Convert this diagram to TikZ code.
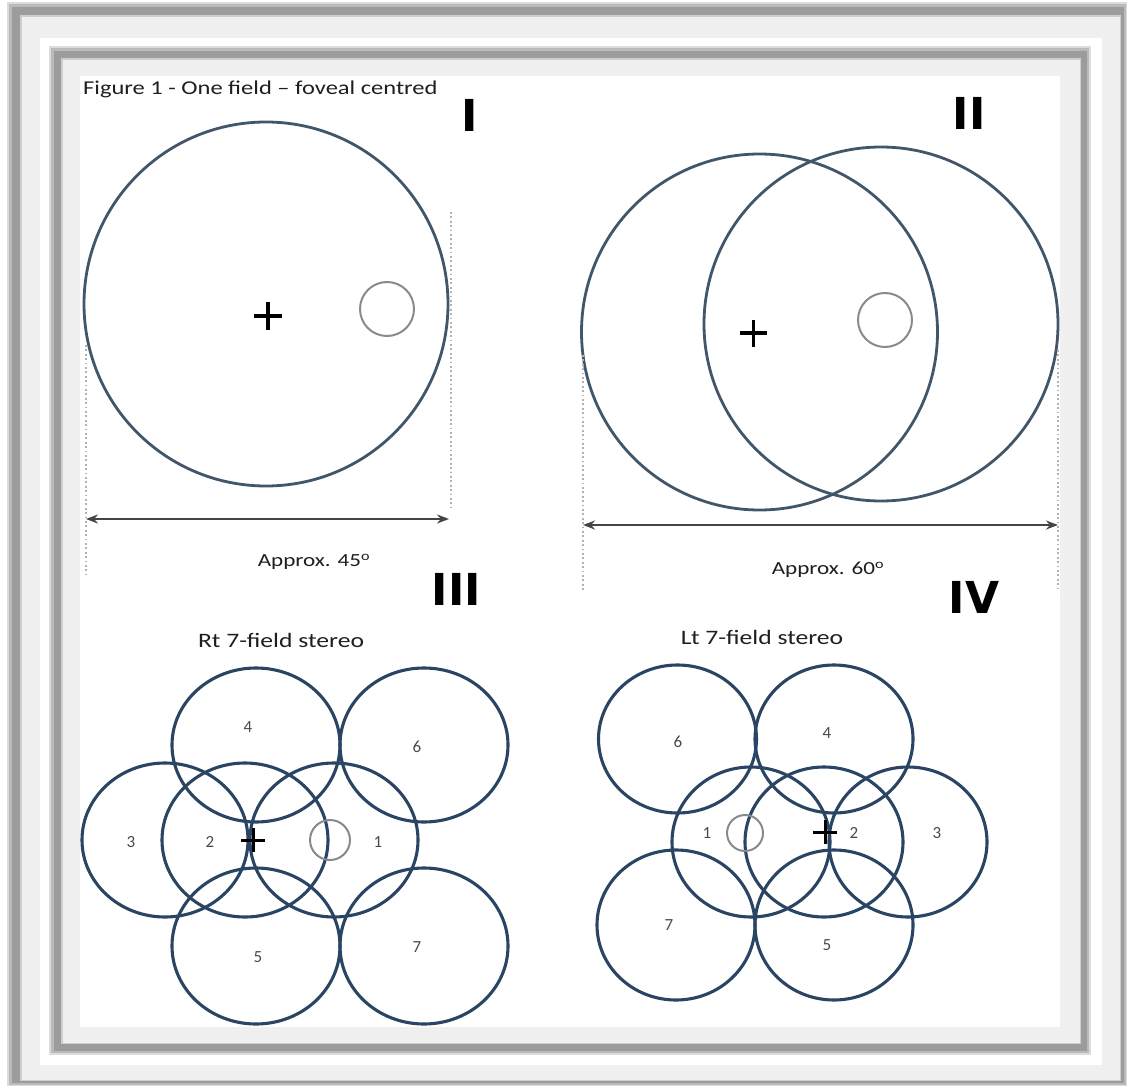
\documentclass[tikz,border=0pt]{standalone}
\usepackage{fontspec}
\setmainfont{Carlito}[FakeStretch=1.25]
\newfontfamily\numfont{Carlito}
\newfontfamily\romanfont{DejaVu Sans}
\usetikzlibrary{arrows.meta}
\definecolor{bigc}{HTML}{42566A}
\definecolor{fieldc}{HTML}{2A4563}
\definecolor{discgray}{HTML}{8A8A8A}
\definecolor{framegray}{HTML}{9C9C9C}
\definecolor{framelight}{HTML}{F0F0F0}
\definecolor{dimgray}{HTML}{444444}
\definecolor{numgray}{HTML}{4A4A4A}
\tikzset{
  bigcircle/.style={draw=bigc, line width=2.8pt},
  fieldcircle/.style={draw=fieldc, line width=3.1pt},
  disc/.style={draw=discgray, line width=2pt},
  plusmark/.style={draw=black, line width=3.8pt},
  smallplus/.style={draw=black, line width=3pt},
  dimarrow/.style={draw=dimgray, line width=2pt, {Stealth[length=12pt,width=9pt]}-{Stealth[length=12pt,width=9pt]}},
  dotline/.style={draw=gray!60, line width=1.8pt, dash pattern=on 1.8pt off 2.6pt},
  roman/.style={inner sep=0pt, font=\romanfont\bfseries\fontsize{44}{44}\selectfont},
  title/.style={inner sep=0pt, font=\fontsize{19.6}{22}\selectfont, text=black!88},
  caption/.style={inner sep=0pt, font=\fontsize{20.5}{22}\selectfont, text=black!88},
  approx/.style={inner sep=0pt, font=\fontsize{18.5}{20}\selectfont, text=black!88},
  fieldlabel/.style={inner sep=0pt, font=\numfont\fontsize{17}{18}\selectfont, text=numgray}
}
\begin{document}
\begin{tikzpicture}[x=1pt,y=-1pt]
\useasboundingbox (0,0) rectangle (1127,1086);
% frame
\fill[white] (0,0) rectangle (1127,1086);
\fill[framegray!35] (7,2) rectangle (1127,1086);
\fill[framegray!70] (9,4) rectangle (1126,1085);
\fill[framegray] (12,7) rectangle (1124,1083);
\fill[framelight!60!framegray] (20,15) rectangle (1121,1081);
\fill[framelight] (22,17) rectangle (1120,1080);
\fill[white] (40,38) rectangle (1102,1065);
\fill[framegray!35] (49,46) rectangle (1091,1055);
\fill[framegray!70] (51,48) rectangle (1089,1053);
\fill[framegray] (54,51) rectangle (1087,1051);
\fill[framelight!60!framegray] (61,58) rectangle (1081,1044);
\fill[framelight] (63,60) rectangle (1080,1043);
\fill[white] (80,76) rectangle (1060,1027);

% title
\node[title, anchor=base west] (titletext) at (83,95) {Figure 1 - One field -- foveal centred};

% roman numerals
\node[roman] (rI) at (469.5,115.5) {I};
\node[roman] (rII) at (969,113) {II};
\node[roman] (rIII) at (456.5,589.5) {III};
\node[roman] (rIV) at (974,597.5) {IV};

% Panel I
\draw[bigcircle] (266,304) circle[radius=182pt];
\draw[disc] (387,309) circle[radius=27pt];
\draw[plusmark] (254,316) -- (282,316) (268,302) -- (268,330);
\coordinate (dIa) at (86,345);
\coordinate (dIb) at (86,575);
\coordinate (dIc) at (451,212);
\coordinate (dId) at (451,508);
\draw[dotline] (dIa) -- (dIb);
\draw[dotline] (dIc) -- (dId);
\coordinate (aIL) at (86,519);
\coordinate (aIR) at (449,519);
\draw[dimarrow] (aIL) -- (aIR);
\node[approx] (apI) at (314,562) {Approx. 45\textsuperscript{o}};

% Panel II
\draw[bigcircle] (759.5,332) circle[radius=178pt];
\draw[bigcircle] (881,324) circle[radius=177pt];
\draw[disc] (885,320) circle[radius=27pt];
\draw[plusmark] (740,333) -- (767,333) (753.5,319.5) -- (753.5,346.5);
\coordinate (dIIa) at (583,355);
\coordinate (dIIb) at (583,592);
\coordinate (dIIc) at (1058,350);
\coordinate (dIId) at (1058,592);
\draw[dotline] (dIIa) -- (dIIb);
\draw[dotline] (dIIc) -- (dIId);
\coordinate (aIIL) at (583,525);
\coordinate (aIIR) at (1058,525);
\draw[dimarrow] (aIIL) -- (aIIR);
\node[approx] (apII) at (828,570) {Approx. 60\textsuperscript{o}};

% Panel III
\node[caption] (rt) at (281,640) {Rt 7-field stereo};
\draw[fieldcircle] (256,745) ellipse[x radius=84pt, y radius=77pt];
\draw[fieldcircle] (424,745) ellipse[x radius=84pt, y radius=77pt];
\draw[fieldcircle] (165,840) ellipse[x radius=83pt, y radius=77pt];
\draw[fieldcircle] (245,840) ellipse[x radius=83pt, y radius=77pt];
\draw[fieldcircle] (334,840) ellipse[x radius=84pt, y radius=77pt];
\draw[fieldcircle] (256,946) ellipse[x radius=84pt, y radius=78pt];
\draw[fieldcircle] (424,946) ellipse[x radius=84pt, y radius=78pt];
\draw[disc] (330,840) circle[radius=20pt];
\draw[smallplus] (241,840) -- (265,840) (253,828) -- (253,852);
\node[fieldlabel] (r4) at (248,727) {4};
\node[fieldlabel] (r6) at (417,747) {6};
\node[fieldlabel] (r3) at (131,842) {3};
\node[fieldlabel] (r2) at (210,842) {2};
\node[fieldlabel] (r1) at (378,842) {1};
\node[fieldlabel] (r5) at (258,957) {5};
\node[fieldlabel] (r7) at (417,947) {7};

% Panel IV
\node[caption] (lt) at (762,637) {Lt 7-field stereo};
\draw[fieldcircle] (677.5,739) ellipse[x radius=79pt, y radius=74pt];
\draw[fieldcircle] (834,739) ellipse[x radius=79pt, y radius=74pt];
\draw[fieldcircle] (751,842) ellipse[x radius=79pt, y radius=75pt];
\draw[fieldcircle] (824,842) ellipse[x radius=79pt, y radius=75pt];
\draw[fieldcircle] (908,842) ellipse[x radius=79pt, y radius=75pt];
\draw[fieldcircle] (676,925) ellipse[x radius=79pt, y radius=75pt];
\draw[fieldcircle] (834,925) ellipse[x radius=79pt, y radius=75pt];
\draw[disc] (745,833) circle[radius=18pt];
\draw[smallplus] (813,832) -- (837,832) (825,820) -- (825,844);
\node[fieldlabel] (l6) at (678,742) {6};
\node[fieldlabel] (l4) at (827,733) {4};
\node[fieldlabel] (l1) at (707,833) {1};
\node[fieldlabel] (l2) at (854,833) {2};
\node[fieldlabel] (l3) at (937,833) {3};
\node[fieldlabel] (l7) at (669,925) {7};
\node[fieldlabel] (l5) at (827,945) {5};
\end{tikzpicture}
\end{document}
